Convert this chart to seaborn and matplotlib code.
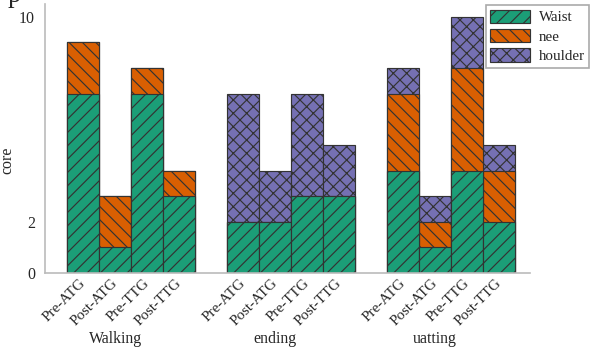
import matplotlib
matplotlib.use("Agg")
import matplotlib.pyplot as plt
from matplotlib.patches import Patch
import seaborn as sns
import pandas as pd

groups = ["Walking", "ending", "uatting"]
conditions = ["Pre-ATG", "Post-ATG", "Pre-TTG", "Post-TTG"]
waist = [7, 1, 7, 3, 2, 2, 3, 3, 4, 1, 4, 2]
knee = [2, 2, 1, 1, 0, 0, 0, 0, 3, 1, 4, 2]
shoulder = [0, 0, 0, 0, 5, 2, 4, 2, 1, 1, 2, 1]
parts = ["Waist", "nee", "houlder"]
colors = ["#1b9e77", "#d95f02", "#7570b3"]
hatches = ["///", "\\\\\\", "xxx"]


def main():
    sns.set_style("white")
    plt.rcParams["font.family"] = ["Liberation Serif", "DejaVu Serif"]
    plt.rcParams["hatch.linewidth"] = 0.7

    # bar centres, one empty slot between groups
    pos = [g * 5 + c + 0.5 for g in range(len(groups)) for c in range(len(conditions))]
    df = pd.DataFrame({"pos": pos, "waist": waist, "knee": knee, "shoulder": shoulder})
    df["wk"] = df["waist"] + df["knee"]
    df["total"] = df["wk"] + df["shoulder"]

    dpi = 120
    fig = plt.figure(figsize=(593 / dpi, 347 / dpi), dpi=dpi)
    ax = fig.add_axes([45 / 593, 1 - 273 / 347, 485 / 593, 269 / 347])

    # stack by overdrawing cumulative totals, tallest first
    for col, c, h in [("total", colors[2], hatches[2]), ("wk", colors[1], hatches[1]), ("waist", colors[0], hatches[0])]:
        sns.barplot(data=df, x="pos", y=col, native_scale=True, width=1, color=c, saturation=1,
                    hatch=h, edgecolor="#333333", linewidth=0.7, errorbar=None, ax=ax)

    ax.set_xlim(-0.69, 14.47)
    ax.set_ylim(0, 10.5)
    ax.set_yticks([0, 2, 4, 6, 8, 10])
    ax.set_yticklabels(["0", "2", "", "", "", "10"], fontsize=9.5)
    ax.set_xticks([g * 5 + 2 for g in range(len(groups))])
    ax.set_xticklabels([])
    ax.set_xticks(pos, minor=True)
    ax.set_xticklabels(conditions * len(groups), minor=True, rotation=45, ha="right",
                       va="center", rotation_mode="anchor", fontsize=9)
    ax.tick_params(axis="x", which="major", direction="in", length=3, color="#999999")
    ax.tick_params(axis="x", which="minor", length=0, pad=5)
    ax.tick_params(axis="y", direction="in", length=3, color="#cccccc", pad=6)
    for g, name in enumerate(groups):
        ax.text(g * 5 + 1.5, -0.245, name, fontsize=9.5, ha="center", va="center",
                transform=ax.get_xaxis_transform())
    ax.set_xlabel("")
    ax.set_ylabel("core", fontsize=9.5)
    ax.yaxis.set_label_coords(-0.062, 0.42)
    for s in ["top", "right"]:
        ax.spines[s].set_visible(False)
    for s in ["left", "bottom"]:
        ax.spines[s].set_color("#bbbbbb")
        ax.spines[s].set_linewidth(1.0)

    handles = [Patch(facecolor=c, hatch=h, edgecolor="#333333", linewidth=0.7)
               for c, h in zip(colors, hatches)]
    fig.legend(handles, parts, loc="upper left", bbox_to_anchor=(486 / 593, 1 - 5 / 347),
               borderaxespad=0, fontsize=9, handlelength=2.6, handleheight=1.0,
               labelspacing=0.3, borderpad=0.3, handletextpad=0.6, fancybox=False,
               edgecolor="#aaaaaa", framealpha=1)

    fig.text(8 / 593, 1 - 2 / 347, "p", fontsize=16, va="baseline")
    fig.savefig("out.png", dpi=dpi)


if __name__ == "__main__":
    main()
